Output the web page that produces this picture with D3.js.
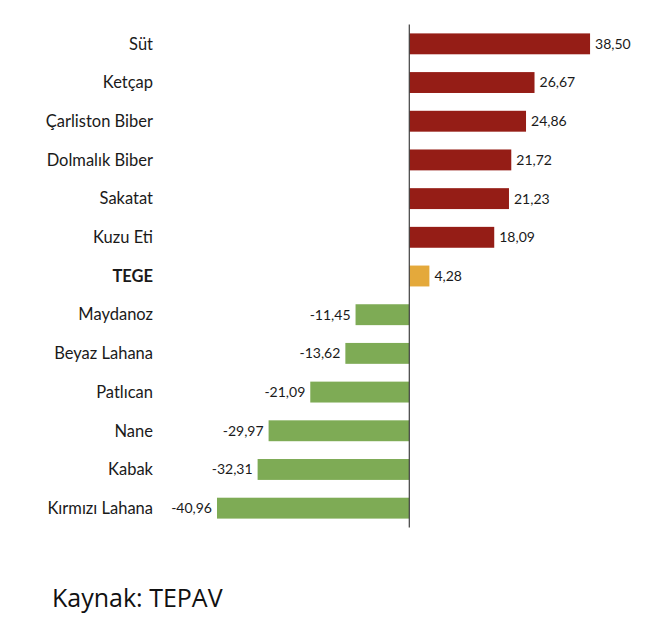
<!DOCTYPE html>
<html>
<head>
<meta charset="utf-8">
<script src="https://cdn.jsdelivr.net/npm/d3@7"></script>
<style>
  body { margin: 0; background: #fff; }
  svg text { font-family: Lato, "Open Sans", sans-serif; fill: #1a1a1a; }
</style>
</head>
<body>
<div id="chart"></div>
<script>
// categories and values (percent change)
var categories = ["Süt", "Ketçap", "Çarliston Biber", "Dolmalık Biber", "Sakatat", "Kuzu Eti",
                  "TEGE", "Maydanoz", "Beyaz Lahana", "Patlıcan", "Nane", "Kabak", "Kırmızı Lahana"];
var values = [38.50, 26.67, 24.86, 21.72, 21.23, 18.09, 4.28, -11.45, -13.62, -21.09, -29.97, -32.31, -40.96];
var highlight = "TEGE";
var source = "Kaynak: TEPAV";

var width = 646;
var height = 622;

var data = categories.map(function(c, i){ return { name: c, value: values[i] }; });

var svg = d3.select("#chart")
    .append("svg")
    .attr("width", width)
    .attr("height", height);

var zeroX = 409.3;
var k = 4.695;
var x = d3.scaleLinear()
    .domain([-41, 39])
    .range([zeroX - 41 * k, zeroX + 39 * k]);

var y = d3.scaleBand()
    .domain(categories)
    .range([24.5, 527.5])
    .paddingInner(0.46)
    .paddingOuter(0.23);

function barColor(d){
    if (d.name === highlight) { return "#E4A93B"; }
    return d.value >= 0 ? "#951D16" : "#7EAB55";
}

svg.selectAll(".bar")
    .data(data)
    .enter().append("rect")
    .attr("class", "bar")
    .attr("x", function(d){ return x(Math.min(0, d.value)); })
    .attr("y", function(d){ return y(d.name); })
    .attr("width", function(d){ return Math.abs(x(d.value) - x(0)); })
    .attr("height", y.bandwidth())
    .attr("fill", barColor);

// zero axis line
svg.append("line")
    .attr("x1", x(0)).attr("x2", x(0))
    .attr("y1", y.range()[0]).attr("y2", y.range()[1])
    .attr("stroke", "#404040")
    .attr("stroke-width", 1.2);

// value labels
svg.selectAll(".val")
    .data(data)
    .enter().append("text")
    .attr("class", "val")
    .attr("x", function(d){ return d.value >= 0 ? x(d.value) + 5 : x(d.value) - 5; })
    .attr("y", function(d){ return y(d.name) + y.bandwidth() / 2; })
    .attr("dy", "0.35em")
    .attr("text-anchor", function(d){ return d.value >= 0 ? "start" : "end"; })
    .style("font-size", "14px")
    .text(function(d){ return d3.format(".2f")(d.value).replace(".", ",").replace("−", "-"); });

// category labels
svg.selectAll(".cat")
    .data(data)
    .enter().append("text")
    .attr("class", "cat")
    .attr("x", 153)
    .attr("y", function(d){ return y(d.name) + y.bandwidth() / 2; })
    .attr("dy", "0.35em")
    .attr("text-anchor", "end")
    .style("font-size", "16.5px")
    .style("font-weight", function(d){ return d.name === highlight ? "bold" : "normal"; })
    .text(function(d){ return d.name; });

svg.append("text")
    .attr("x", 52)
    .attr("y", 607)
    .style("font-family", "'Open Sans', sans-serif")
    .style("font-size", "25px")
    .style("fill", "#111")
    .text(source);
</script>
</body>
</html>
